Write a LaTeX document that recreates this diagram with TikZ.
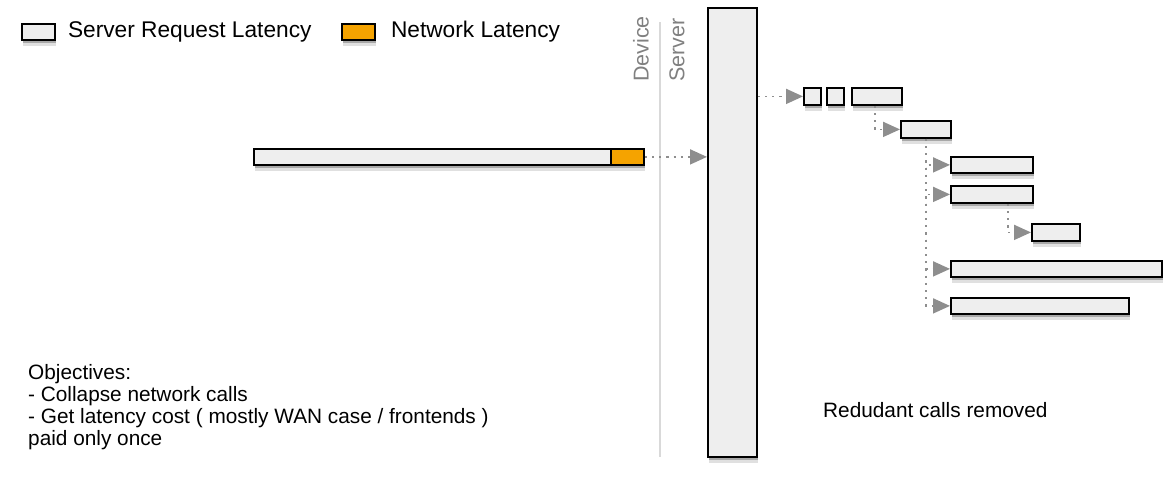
\documentclass[tikz,border=0pt]{standalone}
\usepackage{fontspec}
\setmainfont{Liberation Sans}
\usetikzlibrary{arrows.meta, positioning, shadows}
\definecolor{reqgray}{HTML}{EEEEEE}
\definecolor{netorange}{HTML}{F5A300}
\definecolor{tipgray}{HTML}{8E8E8E}

\begin{document}
\begin{tikzpicture}[x=1pt, y=-1pt,
      bar/.style={draw=black, line width=1.8pt, fill=reqgray, inner sep=0pt, anchor=north west,
        general shadow={shadow xshift=1pt, shadow yshift=-6pt, fill=black, opacity=0.12},
        drop shadow={shadow xshift=1pt, shadow yshift=-3pt, fill=black, opacity=0.25}},
      netbar/.style={bar, fill=netorange},
      call/.style={dash pattern=on 2.2pt off 5pt, line width=1.8pt, tipgray, -{Triangle[length=17pt, width=15pt]}},
      legend/.style={font=\fontsize{22.7}{26}\selectfont, inner sep=0pt},
      side/.style={font=\fontsize{21.5}{24}\selectfont, text=gray, rotate=90, anchor=west, inner sep=0pt},
      note/.style={font=\fontsize{20.8}{22}\selectfont, inner sep=0pt, align=left}
    ]
      \useasboundingbox (0,0) rectangle (1168,480);

      % legend
      \node[bar, minimum width=33pt, minimum height=16pt] (legreq) at (21,23) {};
      \node[legend, right=12pt of legreq] (legreqtxt) {Server Request Latency};
      \node[netbar, minimum width=33pt, minimum height=16pt] (legnet) at (341,23) {};
      \node[legend, right=15pt of legnet] (legnettxt) {Network Latency};

      % device / server split
      \node[side] (device) at (641,82) {Device};
      \node[side] (server) at (677,82) {Server};
      \coordinate (splittop) at (660,22);
      \coordinate (splitbot) at (660,457);
      \draw[gray!30, line width=1.2pt] (splittop) -- (splitbot);

      % client request
      \node[bar, minimum width=357pt, minimum height=16pt] (req) at (253,148) {};
      \node[netbar, minimum width=33pt, minimum height=16pt] (net) at (610,148) {};
      \node[bar, minimum width=49pt, minimum height=449pt] (srv) at (707,7) {};

      % backend calls
      \node[bar, minimum width=17pt, minimum height=17pt] (calla) at (803,87) {};
      \node[bar, minimum width=17pt, minimum height=17pt] (callb) at (826,87) {};
      \node[bar, minimum width=50pt, minimum height=17pt] (callc) at (851,87) {};
      \node[bar, minimum width=50pt, minimum height=17pt] (calld) at (900,120) {};
      \node[bar, minimum width=82pt, minimum height=16pt] (calle) at (950,156) {};
      \node[bar, minimum width=82pt, minimum height=17pt] (callf) at (950,185) {};
      \node[bar, minimum width=48pt, minimum height=17pt] (callg) at (1031,223) {};
      \node[bar, minimum width=211pt, minimum height=16pt] (callh) at (950,260) {};
      \node[bar, minimum width=178pt, minimum height=16pt] (calli) at (950,297) {};

      \draw[call] (net) -- (net -| srv.west);
      \draw[call] (srv.east |- calla.west) -- (calla);
      \draw[call] ([xshift=-2pt]callc.south) |- (calld);
      \draw[call] (calld.south) |- (calle);
      \draw[call] (calld.south) |- (callf);
      \draw[call] (calld.south) |- (callh);
      \draw[call] (calld.south) |- (calli);
      \draw[call] ([xshift=16pt]callf.south) |- (callg);

      % notes
      \node[note, anchor=north west] (goals) at (28,364) {Objectives:\\- Collapse network calls\\- Get latency cost ( mostly WAN case / frontends )\\paid only once};
      \node[note, anchor=base west] (removed) at (823,417) {Redudant calls removed};
    \end{tikzpicture}
\end{document}
